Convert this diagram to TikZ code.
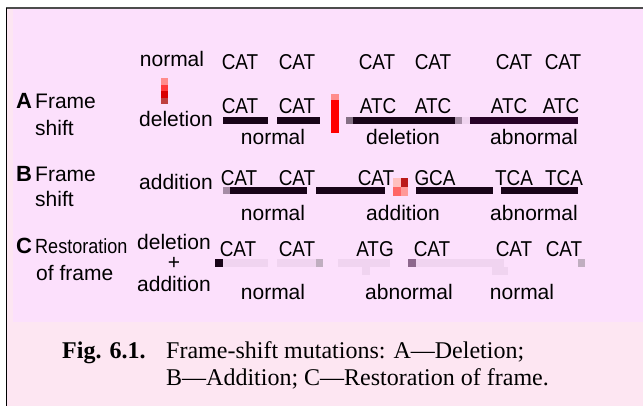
\documentclass[tikz,border=0pt]{standalone}
\usepackage{fontspec}
\setmainfont{Liberation Serif}
\setsansfont{Liberation Sans}
\newfontfamily\narrowsans{Liberation Sans}[FakeStretch=0.88]
\usepackage{tikz}
\usepackage{xcolor}
\usetikzlibrary{positioning}
\definecolor{panelpink}{RGB}{252,224,252}
\definecolor{captionpink}{RGB}{253,230,242}
\definecolor{bardark}{RGB}{24,4,24}
\definecolor{barmauve}{RGB}{165,140,165}
\definecolor{ghostpink}{RGB}{240,212,240}

\begin{document}
\begin{tikzpicture}[x=1pt,y=-1pt,
  codon/.style={anchor=base, inner sep=0pt, font=\narrowsans\fontsize{21.5}{21.5}\selectfont},
  tag/.style={anchor=base, inner sep=0pt, font=\sffamily\fontsize{21}{21}\selectfont},
  rowtag/.style={anchor=base west, inner sep=0pt, font=\sffamily\fontsize{21}{21}\selectfont},
  rowletter/.style={anchor=base west, inner sep=0pt, font=\sffamily\bfseries\fontsize{22}{22}\selectfont},
  captext/.style={anchor=base west, inner sep=0pt, font=\fontsize{24}{24}\selectfont},
  bar/.style={fill=bardark},
  ghost/.style={fill=ghostpink}]
  \useasboundingbox (0,0) rectangle (643,406);
  % frame
  \fill[white] (0,0) rectangle (643,406);
  \fill[captionpink] (6,8) rectangle (643,406);
  \fill[panelpink] (13,9) rectangle (643,322);
  \draw[line width=1.5pt, black!70] (6,8) -- (643,8);
  \draw[line width=1.5pt] (6.5,8) -- (6.5,406);

  % normal sequence
  \node[tag] (top-normal) at (172,67) {normal};
  \node[codon] (top-c1) at (240,70) {CAT};
  \node[codon] (top-c2) at (297,70) {CAT};
  \node[codon] (top-c3) at (377,70) {CAT};
  \node[codon] (top-c4) at (433,70) {CAT};
  \node[codon] (top-c5) at (514,70) {CAT};
  \node[codon] (top-c6) at (563,70) {CAT};

  % A: deletion
  \node[rowletter] (a-letter) at (16,109) {A};
  \node[rowtag] (a-frame) at (35,109) {Frame};
  \node[rowtag] (a-shift) at (35,136) {shift};
  \node[tag] (a-kind) at (176,127) {deletion};
  \fill[red!45] (161,78) rectangle (168,85);
  \fill[red!70!pink] (161,85) rectangle (168,91);
  \fill[red!85!black] (161,91) rectangle (168,98);
  \fill[red!50!gray] (161,98) rectangle (168,104);
  \node[codon] (a-c1) at (240,114) {CAT};
  \node[codon] (a-c2) at (297,114) {CAT};
  \node[codon] (a-c3) at (378,114) {ATC};
  \node[codon] (a-c4) at (433,114) {ATC};
  \node[codon] (a-c5) at (509,114) {ATC};
  \node[codon] (a-c6) at (561,114) {ATC};
  \fill[bar] (223,117.5) rectangle (268,124.5);
  \fill[bar] (277,117.5) rectangle (320,124.5);
  \fill[red!45] (331,94) rectangle (339,100);
  \fill[red] (331,100) rectangle (339,133);
  \fill[barmauve!80!black] (346,117.5) rectangle (353,124.5);
  \fill[bar] (353,117.5) rectangle (455,124.5);
  \fill[barmauve] (455,117.5) rectangle (462,124.5);
  \fill[ghostpink] (462,117.5) rectangle (470,124.5);
  \fill[bardark!85!violet] (470,117.5) rectangle (578,124.5);
  \node[tag] (a-n1) at (273,145) {normal};
  \node[tag] (a-n2) at (403,145) {deletion};
  \node[tag] (a-n3) at (534,145) {abnormal};

  % B: addition
  \node[rowletter] (b-letter) at (16,182) {B};
  \node[rowtag] (b-frame) at (35,182) {Frame};
  \node[rowtag] (b-shift) at (35,207) {shift};
  \node[tag] (b-kind) at (176,190) {addition};
  \node[codon] (b-c1) at (239,186) {CAT};
  \node[codon] (b-c2) at (297,186) {CAT};
  \node[codon] (b-c3) at (376,186) {CAT};
  \node[codon] (b-c4) at (435,186) {GCA};
  \node[codon] (b-c5) at (514,186) {TCA};
  \node[codon] (b-c6) at (564,186) {TCA};
  \fill[barmauve] (223,187.5) rectangle (230,194.5);
  \fill[bar] (230,187.5) rectangle (307,194.5);
  \fill[bar] (316,187.5) rectangle (385,194.5);
  \fill[bar] (416,187.5) rectangle (493,194.5);
  \fill[bar] (501,187.5) rectangle (578,194.5);
  \fill[red!25] (393,178) rectangle (400.5,187);
  \fill[red!70!black!90] (400.5,178) rectangle (408,187);
  \fill[red!60] (393,187) rectangle (400.5,196);
  \fill[red!40] (400.5,187) rectangle (408,196);
  \node[tag] (b-n1) at (273,221) {normal};
  \node[tag] (b-n2) at (403,221) {addition};
  \node[tag] (b-n3) at (534,221) {abnormal};

  % C: restoration
  \node[rowletter] (c-letter) at (16,254) {C};
  \node[anchor=base west, inner sep=0pt, font=\narrowsans\fontsize{20.5}{20.5}\selectfont]
    (c-rest) at (35,254) {Restoration};
  \node[rowtag] (c-frame) at (36,280) {of frame};
  \node[tag] (c-kind1) at (174,250) {deletion};
  \node[tag] (c-plus) at (174,270) {+};
  \node[tag] (c-kind2) at (174,291) {addition};
  \node[codon] (c-c1) at (238,257) {CAT};
  \node[codon] (c-c2) at (297,257) {CAT};
  \node[codon] (c-c3) at (375,257) {ATG};
  \node[codon] (c-c4) at (432,257) {CAT};
  \node[codon] (c-c5) at (514,257) {CAT};
  \node[codon] (c-c6) at (564,257) {CAT};
  \fill[bar] (215,259) rectangle (223,267);
  \fill[ghost] (223,259) rectangle (268,267);
  \fill[ghost] (277,259) rectangle (316,267);
  \fill[barmauve!70] (316,259) rectangle (323,267);
  \fill[ghost] (338,259) rectangle (390,267);
  \fill[ghost] (362,267) rectangle (370,275);
  \fill[bardark!60!violet!60] (408,259) rectangle (416,267);
  \fill[ghost] (416,259) rectangle (504,267);
  \fill[ghost] (492,267) rectangle (508,275);
  \fill[barmauve!70] (578,259) rectangle (585,267);
  \node[tag] (c-n1) at (273,300) {normal};
  \node[tag] (c-n2) at (409,300) {abnormal};
  \node[tag] (c-n3) at (522,300) {normal};

  % caption
  \node[captext, font=\bfseries\fontsize{24}{24}\selectfont] (cap-num) at (62,358) {Fig. 6.1.};
  \node[captext] (cap-l1) at (166,358) {Frame-shift mutations: A---Deletion;};
  \node[captext] (cap-l2) at (166,385) {B---Addition; C---Restoration of frame.};
\end{tikzpicture}
\end{document}
